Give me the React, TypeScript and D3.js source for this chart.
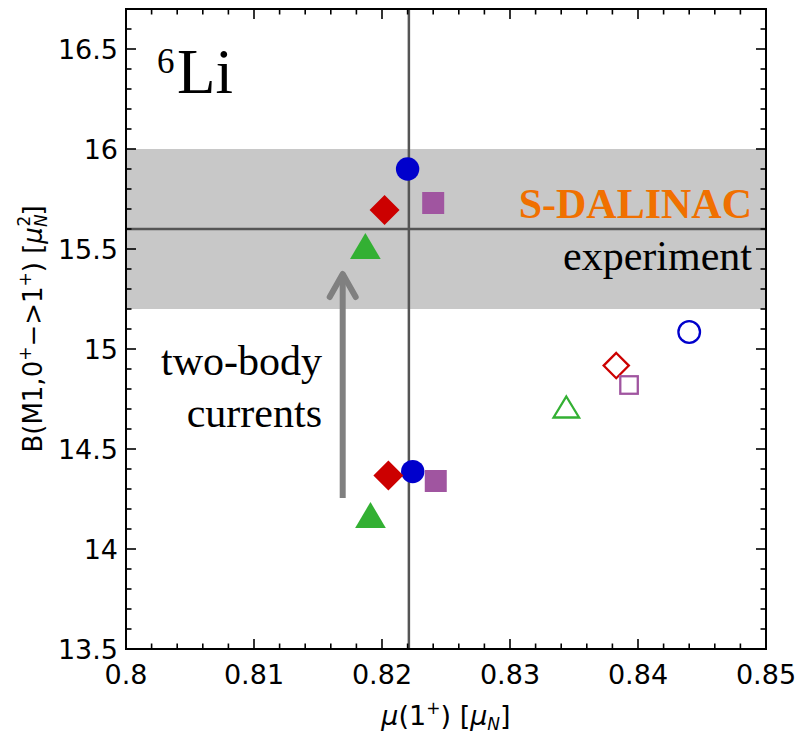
import React from "react";
import * as d3 from "d3";

// plot frame in page pixels
const W = 800;
const H = 734;
const frame = { left: 126, right: 766, top: 9, bottom: 649 };

// data
const shapes = ["circle", "diamond", "square", "triangle"];
const colors = ["#0000cc", "#cc0000", "#a055a0", "#33b033"];
const fullMu = [0.822, 0.8202, 0.824, 0.8187];
const fullB = [15.9, 15.695, 15.73, 15.515];
const oneBodyMu = [0.8224, 0.8205, 0.8242, 0.8191];
const oneBodyB = [14.387, 14.367, 14.34, 14.17];
const openMu = [0.844, 0.8383, 0.8393, 0.8344];
const openB = [15.085, 14.917, 14.82, 14.71];

const expMu = 0.8221;
const expB = 15.6;
const expBand = [15.2, 16.0];
const arrowMu = 0.81693;
const arrowB = [14.255, 15.375];

const xTicks = [0.8, 0.81, 0.82, 0.83, 0.84, 0.85];
const xTickLabels = ["0.8", "0.81", "0.82", "0.83", "0.84", "0.85"];
const yTicks = [13.5, 14, 14.5, 15, 15.5, 16, 16.5];
const yTickLabels = ["13.5", "14", "14.5", "15", "15.5", "16", "16.5"];

const sans = "'DejaVu Sans', Verdana, sans-serif";
const serif = "'Liberation Serif', 'Times New Roman', serif";

const Marker = ({ shape, cx, cy, color, open }) => {
  const sw = open ? 2.3 : 0;
  const fill = open ? "none" : color;
  const stroke = open ? color : "none";
  if (shape === "circle") {
    return <circle cx={cx} cy={cy} r={open ? 10.8 : 11.7} fill={fill} stroke={stroke} strokeWidth={sw} />;
  }
  if (shape === "square") {
    const s = open ? 17.5 : 22;
    return <rect x={cx - s / 2} y={cy - s / 2} width={s} height={s} fill={fill} stroke={stroke} strokeWidth={sw} />;
  }
  if (shape === "diamond") {
    const h = open ? 12.6 : 15;
    const d = `M${cx},${cy - h}L${cx + h},${cy}L${cx},${cy + h}L${cx - h},${cy}Z`;
    return <path d={d} fill={fill} stroke={stroke} strokeWidth={sw} />;
  }
  const w = open ? 25.5 : 30.7;
  const h = open ? 21 : 26;
  const d = `M${cx},${cy - h / 2}L${cx + w / 2},${cy + h / 2}L${cx - w / 2},${cy + h / 2}Z`;
  return <path d={d} fill={fill} stroke={stroke} strokeWidth={sw} />;
};

export default function App() {
  const x = d3.scaleLinear().domain([0.8, 0.85]).range([frame.left, frame.right]);
  const y = d3.scaleLinear().domain([13.5, 16.7]).range([frame.bottom, frame.top]);

  const xMinor = x.ticks(25);
  const yMinor = y.ticks(32);
  const isMajor = (v, majors) => majors.some((m) => Math.abs(m - v) < 1e-9);

  const ax = x(arrowMu);
  const ay0 = y(arrowB[0]);
  const ay1 = y(arrowB[1]);

  return (
    <svg
      width={W}
      height={H}
      style={{ position: "absolute", left: 0, top: 0, background: "#fff" }}
    >
      {/* experimental band and central values */}
      <rect
        x={frame.left}
        y={y(expBand[1])}
        width={frame.right - frame.left}
        height={y(expBand[0]) - y(expBand[1])}
        fill="#c8c8c8"
      />
      <line x1={frame.left} x2={frame.right} y1={y(expB)} y2={y(expB)} stroke="#555" strokeWidth={2.5} />
      <line x1={x(expMu)} x2={x(expMu)} y1={frame.top} y2={frame.bottom} stroke="#555" strokeWidth={2.5} />

      {/* arrow */}
      <g stroke="#808080" strokeWidth={6} fill="none" strokeLinecap="round" strokeLinejoin="round">
        <line x1={ax} x2={ax} y1={ay0} y2={ay1 + 2} strokeLinecap="butt" />
        <path d={`M${ax - 13},${ay1 + 23}L${ax},${ay1}L${ax + 13},${ay1 + 23}`} />
      </g>

      {/* points */}
      {shapes.map((s, i) => (
        <Marker key={"f" + i} shape={s} cx={x(fullMu[i])} cy={y(fullB[i])} color={colors[i]} />
      ))}
      {shapes.map((s, i) => (
        <Marker key={"o" + i} shape={s} cx={x(oneBodyMu[i])} cy={y(oneBodyB[i])} color={colors[i]} />
      ))}
      {shapes.map((s, i) => (
        <Marker key={"p" + i} shape={s} cx={x(openMu[i])} cy={y(openB[i])} color={colors[i]} open />
      ))}

      {/* frame */}
      <rect
        x={frame.left}
        y={frame.top}
        width={frame.right - frame.left}
        height={frame.bottom - frame.top}
        fill="none"
        stroke="#000"
        strokeWidth={2}
      />

      {/* ticks, all inward on four sides */}
      <g stroke="#000" strokeWidth={1.6}>
        {xMinor.map((v, i) => {
          const len = isMajor(v, xTicks) ? 10 : 5.5;
          return (
            <g key={"xt" + i}>
              <line x1={x(v)} x2={x(v)} y1={frame.bottom} y2={frame.bottom - len} />
              <line x1={x(v)} x2={x(v)} y1={frame.top} y2={frame.top + len} />
            </g>
          );
        })}
        {yMinor.map((v, i) => {
          const len = isMajor(v, yTicks) ? 10 : 5.5;
          return (
            <g key={"yt" + i}>
              <line x1={frame.left} x2={frame.left + len} y1={y(v)} y2={y(v)} />
              <line x1={frame.right} x2={frame.right - len} y1={y(v)} y2={y(v)} />
            </g>
          );
        })}
      </g>

      {/* tick labels */}
      <g fontFamily={sans} fontSize={27} fill="#000">
        {xTicks.map((v, i) => (
          <text key={"xl" + i} x={x(v)} y={684} textAnchor="middle">
            {xTickLabels[i]}
          </text>
        ))}
        {yTicks.map((v, i) => (
          <text key={"yl" + i} x={118} y={y(v) + 10} textAnchor="end">
            {yTickLabels[i]}
          </text>
        ))}
      </g>

      {/* axis titles */}
      <text x={446} y={725} textAnchor="middle" fontFamily={sans} fontSize={27}>
        <tspan fontStyle="italic">μ</tspan>
        <tspan>(1</tspan>
        <tspan fontSize={17} dy={-11}>+</tspan>
        <tspan dy={11}>) [</tspan>
        <tspan fontStyle="italic">μ</tspan>
        <tspan fontStyle="italic" fontSize={17} dy={5}>N</tspan>
        <tspan dy={-5}>]</tspan>
      </text>
      <text
        transform={`translate(42, ${(frame.top + frame.bottom) / 2}) rotate(-90)`}
        textAnchor="middle"
        fontFamily={sans}
        fontSize={26}
      >
        <tspan>B(M1,0</tspan>
        <tspan fontSize={17} dy={-11}>+</tspan>
        <tspan dy={11}>−&gt;1</tspan>
        <tspan fontSize={17} dy={-11}>+</tspan>
        <tspan dy={11}>) [</tspan>
        <tspan fontStyle="italic">μ</tspan>
        <tspan fontStyle="italic" fontSize={17} dy={5}>N</tspan>
        <tspan fontSize={17} dx={-12} dy={-17}>2</tspan>
        <tspan dy={12}>]</tspan>
      </text>

      {/* annotations */}
      <text x={157} y={73} fontFamily={serif} fontSize={35}>6</text>
      <text x={177} y={93} fontFamily={serif} fontSize={63}>Li</text>

      <text x={752} y={218} textAnchor="end" fontFamily={serif} fontSize={42} fontWeight="bold" fill="#f07000">
        S-DALINAC
      </text>
      <text x={752} y={270} textAnchor="end" fontFamily={serif} fontSize={42} fill="#000">
        experiment
      </text>

      <text fontFamily={serif} fontSize={42} textAnchor="end" fill="#000">
        <tspan x={322} y={375}>two-body</tspan>
        <tspan x={322} y={427}>currents</tspan>
      </text>
    </svg>
  );
}
